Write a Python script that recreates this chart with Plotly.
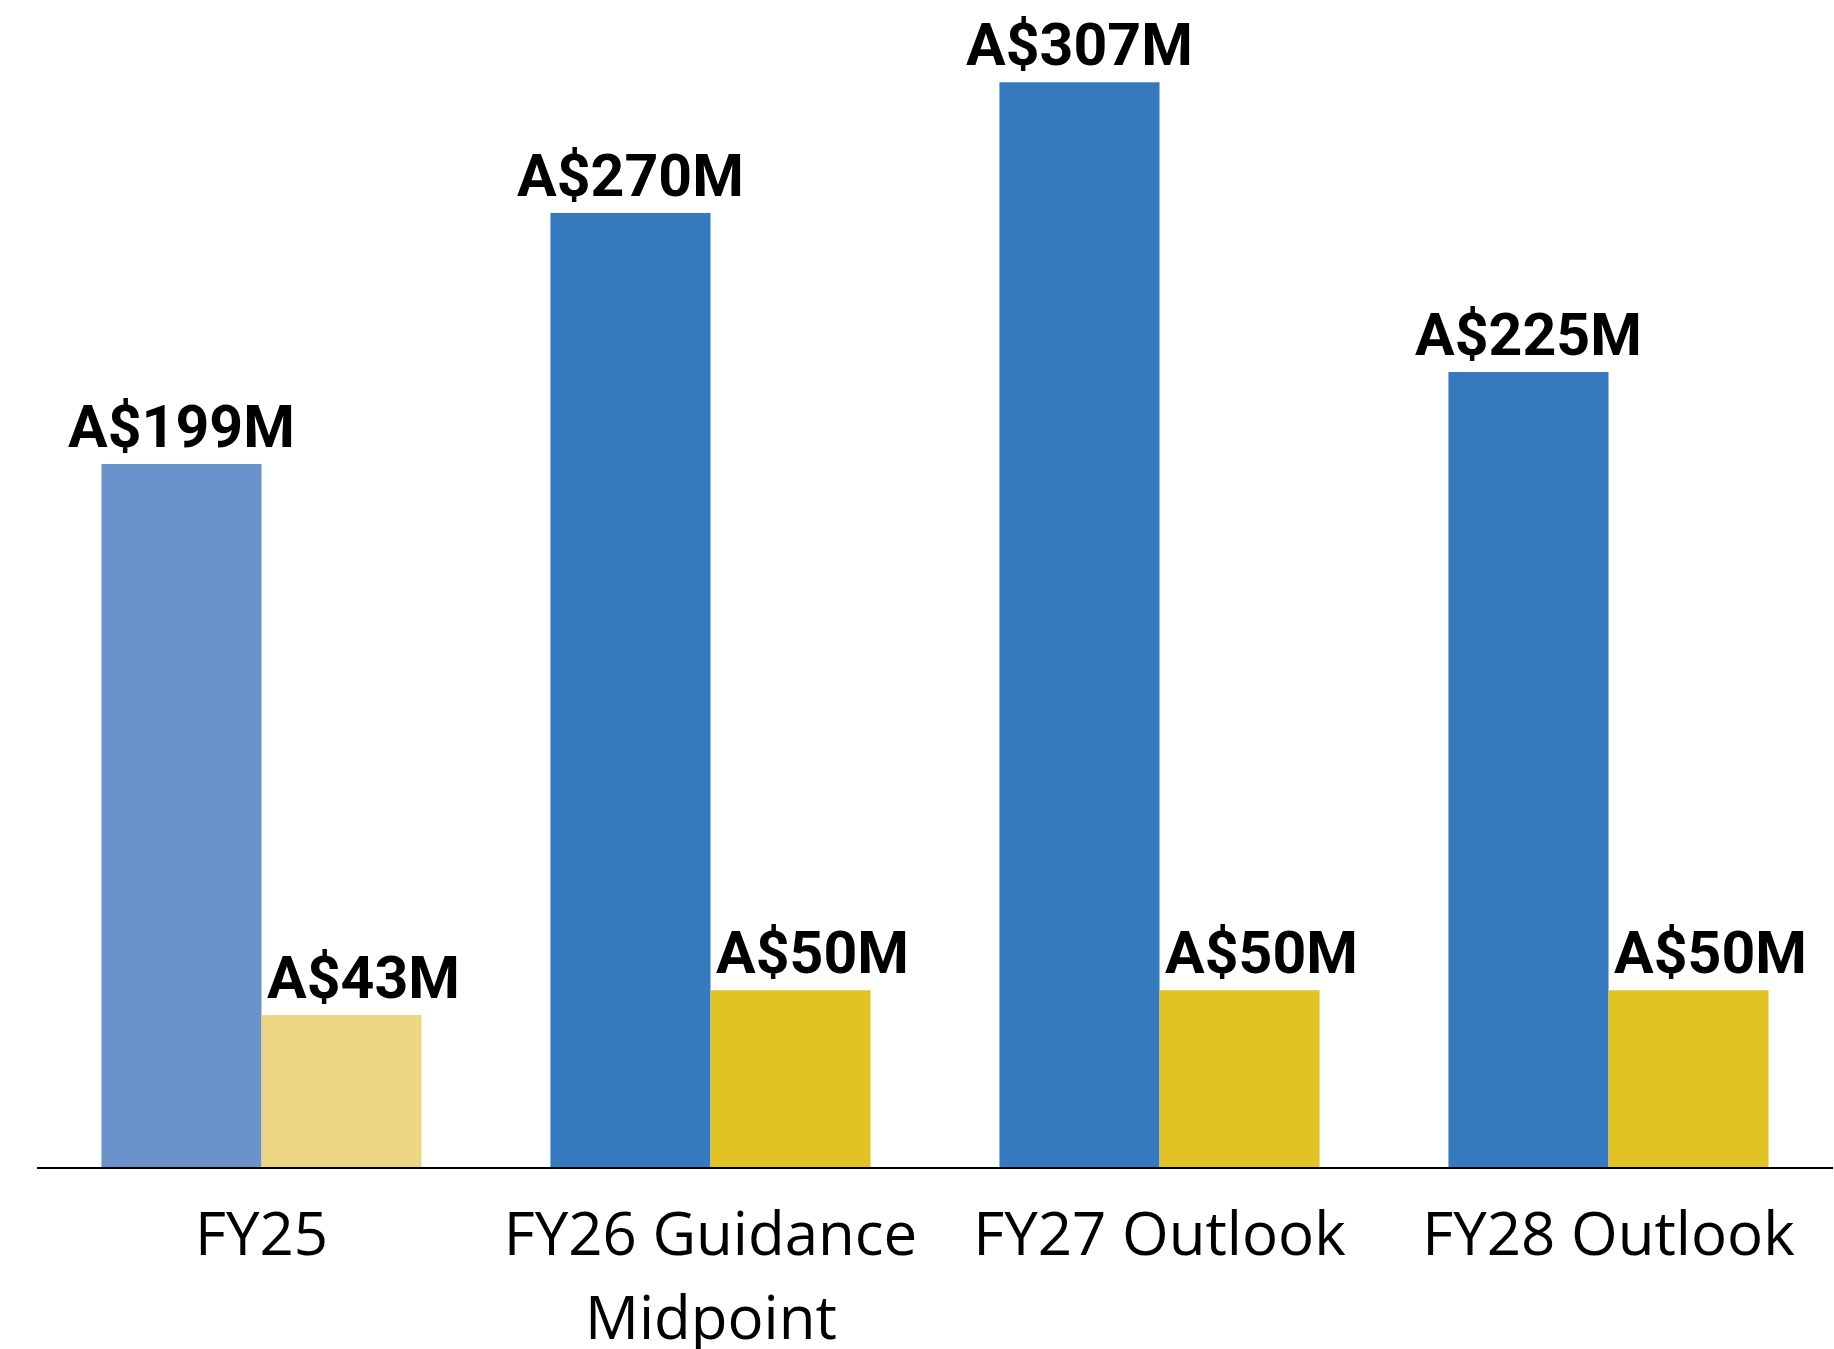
import plotly.graph_objects as go

categories = ["FY25", "FY26 Guidance", "FY27 Outlook", "FY28 Outlook"]
second_lines = ["", "Midpoint", "", ""]
series_a = [199, 270, 307, 225]
series_b = [43, 50, 50, 50]
colors_a = ["#6A93CB", "#3579BE", "#3579BE", "#3579BE"]
colors_b = ["#EBD684", "#E1C324", "#E1C324", "#E1C324"]

x_idx = list(range(len(categories)))
label_font = dict(family="Roboto", size=59, color="black", weight="bold")
tick_font = dict(family="Open Sans", size=60, color="black")
pad = "\u00a0" * 3

fig = go.Figure()
fig.add_trace(go.Bar(
    x=x_idx, y=series_a, marker=dict(color=colors_a, line=dict(width=0)),
    text=[f"<b>A${v}M</b>" for v in series_a], textposition="outside",
    textfont=label_font, constraintext="none", cliponaxis=False, showlegend=False,
))
fig.add_trace(go.Bar(
    x=x_idx, y=series_b, marker=dict(color=colors_b, line=dict(width=0)),
    text=[f"<b>{pad}A${v}M</b>" for v in series_b], textposition="outside",
    textfont=label_font, constraintext="none", cliponaxis=False, showlegend=False,
))

for i, t in enumerate(second_lines):
    if t:
        fig.add_annotation(
            x=i, y=0, xref="x", yref="paper", text=t, showarrow=False,
            yanchor="top", yshift=-106, font=tick_font,
        )

fig.update_layout(
    width=1834, height=1349,
    margin=dict(l=37, r=1, t=0, b=182, autoexpand=False),
    barmode="group", bargap=0.287, bargroupgap=0,
    plot_bgcolor="white", paper_bgcolor="white",
    font=dict(family="Roboto", color="black"),
)
fig.update_xaxes(
    range=[-0.5, 3.5], tickmode="array", tickvals=x_idx, ticktext=categories,
    showline=True, linecolor="black", linewidth=2, showgrid=False, zeroline=False,
    ticks="outside", ticklen=14, tickcolor="rgba(0,0,0,0)", automargin=False,
    tickfont=tick_font,
)
fig.update_yaxes(range=[0, 330.3], visible=False, showgrid=False, zeroline=False,
                 automargin=False)

fig.write_html("out.html", config={"displayModeBar": False},
               post_script="document.body.style.margin='0px';")
